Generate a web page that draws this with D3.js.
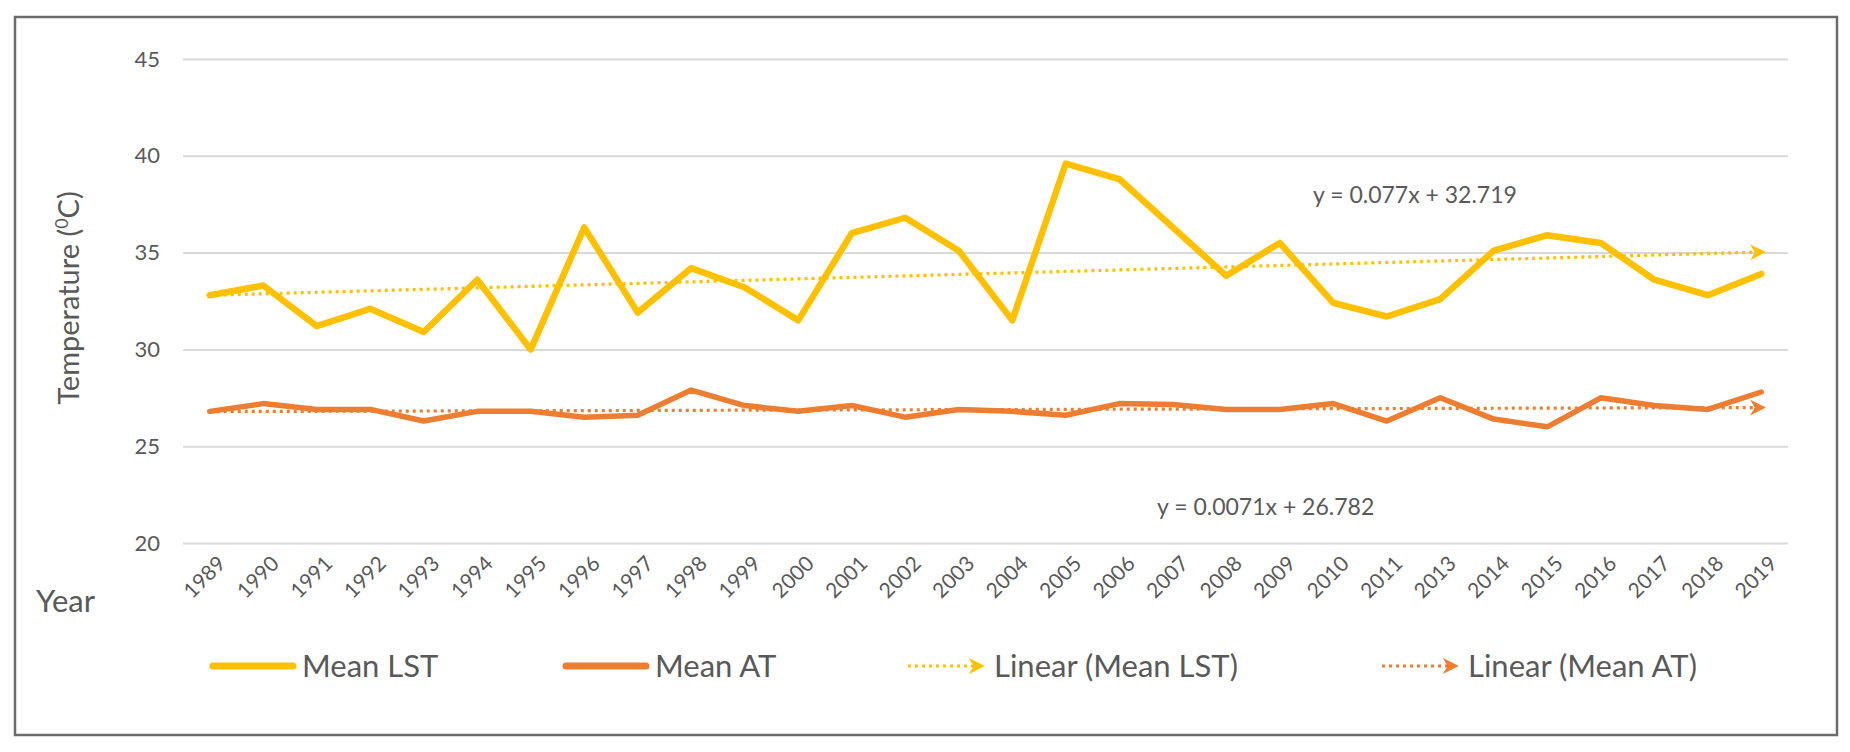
<!DOCTYPE html>
<html>
<head>
<meta charset="utf-8">
<script src="https://cdn.jsdelivr.net/npm/d3@7"></script>
<style>
  body { margin: 0; background: #fff; }
  svg { font-family: Lato, "Open Sans", sans-serif; }
</style>
</head>
<body>
<svg width="1850" height="752"></svg>
<script>
// years on the category axis (2012 is missing in the source)
const years = ["1989","1990","1991","1992","1993","1994","1995","1996","1997","1998",
  "1999","2000","2001","2002","2003","2004","2005","2006","2007","2008",
  "2009","2010","2011","2013","2014","2015","2016","2017","2018","2019"]

const meanLST = [32.8,33.3,31.2,32.1,30.9,33.6,30.0,36.3,31.9,34.2,
  33.2,31.5,36.0,36.8,35.1,31.5,39.6,38.8,36.3,33.8,
  35.5,32.4,31.7,32.6,35.1,35.9,35.5,33.6,32.8,33.9]

const meanAT = [26.8,27.2,26.9,26.9,26.3,26.8,26.8,26.5,26.6,27.9,
  27.1,26.8,27.1,26.5,26.9,26.8,26.6,27.2,27.15,26.9,
  26.9,27.2,26.3,27.5,26.4,26.0,27.5,27.1,26.9,27.8]

const yTicks = [20, 25, 30, 35, 40, 45]

// trend lines as printed on the chart
const lstTrend = {slope: 0.077, intercept: 32.719, label: "y = 0.077x + 32.719"}
const atTrend = {slope: 0.0071, intercept: 26.782, label: "y = 0.0071x + 26.782"}

const legendItems = ["Mean LST", "Mean AT", "Linear (Mean LST)", "Linear (Mean AT)"]

const yellow = "#FFC000", orange = "#ED7D31", textCol = "#595959"

const svg = d3.select("svg")
const plotLeft = 183, plotRight = 1788, plotTop = 59, plotBottom = 543

// outer frame
svg.append("rect")
  .attr("x", 15).attr("y", 17).attr("width", 1822).attr("height", 718)
  .attr("fill", "none").attr("stroke", "#6b6b6b").attr("stroke-width", 2.5)

const x = d3.scaleBand().domain(years).range([plotLeft, plotRight])
const y = d3.scaleLinear().domain([20, 45]).range([plotBottom, plotTop])
const cx = d => x(d) + x.bandwidth() / 2

// y axis with gridlines
const yAxis = svg.append("g")
  .attr("transform", `translate(${plotLeft},0)`)
  .call(d3.axisLeft(y).tickValues(yTicks).tickSize(-(plotRight - plotLeft)).tickPadding(23))
yAxis.select(".domain").remove()
yAxis.selectAll("line").attr("stroke", "#d9d9d9").attr("stroke-width", 2)
yAxis.selectAll("text").attr("fill", textCol).style("font-size", "22px")
  .style("font-family", "Lato")

// x axis labels, rotated
const xAxis = svg.append("g")
  .attr("transform", `translate(0,${plotBottom})`)
  .call(d3.axisBottom(x).tickSize(0).tickPadding(0))
xAxis.select(".domain").remove()
xAxis.selectAll("text")
  .attr("fill", textCol).style("font-size", "21px").style("font-family", "Lato")
  .attr("text-anchor", "end")
  .attr("y", 0).attr("dy", 0)
  .attr("transform", "translate(17,22) rotate(-45)")

// axis titles
const yTitle = svg.append("text")
  .attr("transform", "translate(79,298) rotate(-90)")
  .attr("text-anchor", "middle")
  .attr("fill", textCol).style("font-size", "29px")
yTitle.append("tspan").text("Temperature (")
yTitle.append("tspan").text("0").attr("baseline-shift", "super").style("font-size", "18px")
yTitle.append("tspan").text("C)")

svg.append("text").attr("x", 36).attr("y", 612)
  .attr("fill", textCol).style("font-size", "31px").text("Year")

// arrow markers for trend lines
const defs = svg.append("defs")
;[["arrYellow", yellow], ["arrOrange", orange]].forEach(([id, c]) => {
  defs.append("marker").attr("id", id)
    .attr("viewBox", "0 0 10 10").attr("refX", 7).attr("refY", 5)
    .attr("markerWidth", 5).attr("markerHeight", 5)
    .attr("markerUnits", "strokeWidth").attr("orient", "auto")
    .append("path").attr("d", "M0,0 L10,5 L0,10 L3,5 Z").attr("fill", c)
})

// trend lines
function trendLine(tr, color, marker) {
  const pts = [0, years.length - 1].map(i => [cx(years[i]), y(tr.intercept + tr.slope * (i + 1))])
  svg.append("path")
    .attr("d", d3.line()(pts))
    .attr("fill", "none").attr("stroke", color).attr("stroke-width", 3.2)
    .attr("stroke-dasharray", "3 4")
    .attr("marker-end", `url(#${marker})`)
}
trendLine(lstTrend, yellow, "arrYellow")
trendLine(atTrend, orange, "arrOrange")

// series lines
const line = d3.line().x((d, i) => cx(years[i])).y(d => y(d))
svg.append("path").datum(meanAT)
  .attr("d", line).attr("fill", "none").attr("stroke", orange)
  .attr("stroke-width", 5.5).attr("stroke-linejoin", "round").attr("stroke-linecap", "round")
svg.append("path").datum(meanLST)
  .attr("d", line).attr("fill", "none").attr("stroke", yellow)
  .attr("stroke-width", 6.5).attr("stroke-linejoin", "round").attr("stroke-linecap", "round")

// equations
svg.append("text").attr("x", 1313).attr("y", 203)
  .attr("fill", textCol).style("font-size", "23px").text(lstTrend.label)
svg.append("text").attr("x", 1157).attr("y", 515)
  .attr("fill", textCol).style("font-size", "23px").text(atTrend.label)

// legend
const legendX = [213, 566, 908, 1382]
const legendColors = [yellow, orange, yellow, orange]
const lg = svg.append("g").attr("transform", "translate(0,666)")
legendItems.forEach((name, i) => {
  const g = lg.append("g").attr("transform", `translate(${legendX[i]},0)`)
  if (i < 2) {
    g.append("line").attr("x1", 0).attr("x2", 80)
      .attr("stroke", legendColors[i]).attr("stroke-width", 7).attr("stroke-linecap", "round")
  } else {
    g.append("line").attr("x1", 0).attr("x2", 72)
      .attr("stroke", legendColors[i]).attr("stroke-width", 3.2).attr("stroke-dasharray", "3 4")
      .attr("marker-end", `url(#${i == 2 ? "arrYellow" : "arrOrange"})`)
  }
  g.append("text").attr("x", i < 2 ? 89 : 86).attr("y", 11)
    .attr("fill", textCol).style("font-size", "31px").text(name)
})
</script>
</body>
</html>
